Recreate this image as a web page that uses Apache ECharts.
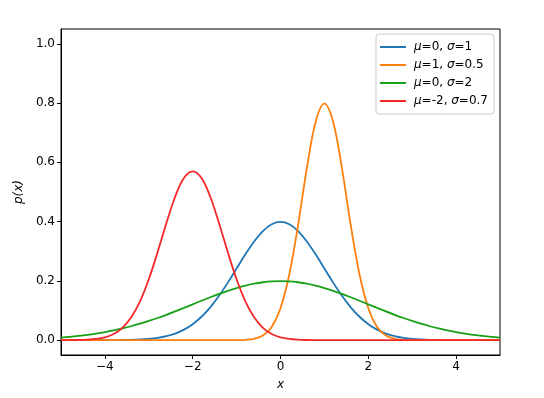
<!DOCTYPE html>
<html>
<head>
<meta charset="utf-8">
<script src="https://cdn.jsdelivr.net/npm/echarts@6/dist/echarts.min.js"></script>
<style>
  html, body { margin: 0; padding: 0; background: #fff; }
  #chart { width: 544px; height: 398px; }
</style>
</head>
<body>
<div id="chart"></div>
<script>
// x samples, step 0.2
var xs = [-5.0, -4.8, -4.6, -4.4, -4.2, -4.0, -3.8, -3.6, -3.4, -3.2,
          -3.0, -2.8, -2.6, -2.4, -2.2, -2.0, -1.8, -1.6, -1.4, -1.2,
          -1.0, -0.8, -0.6, -0.4, -0.2, 0.0, 0.2, 0.4, 0.6, 0.8,
          1.0, 1.2, 1.4, 1.6, 1.8, 2.0, 2.2, 2.4, 2.6, 2.8,
          3.0, 3.2, 3.4, 3.6, 3.8, 4.0, 4.2, 4.4, 4.6, 4.8, 5.0];

// mu=0, sigma=1
var blue = [0, 0, 0, 0, 0.0001, 0.0001, 0.0003, 0.0006, 0.0012, 0.0024,
            0.0044, 0.0079, 0.0136, 0.0224, 0.0355, 0.0540, 0.0790, 0.1109, 0.1497, 0.1942,
            0.2420, 0.2897, 0.3332, 0.3683, 0.3910, 0.3989, 0.3910, 0.3683, 0.3332, 0.2897,
            0.2420, 0.1942, 0.1497, 0.1109, 0.0790, 0.0540, 0.0355, 0.0224, 0.0136, 0.0079,
            0.0044, 0.0024, 0.0012, 0.0006, 0.0003, 0.0001, 0.0001, 0, 0, 0, 0];

// mu=1, sigma=0.5
var orange = [0, 0, 0, 0, 0, 0, 0, 0, 0, 0,
              0, 0, 0, 0, 0, 0, 0, 0, 0, 0,
              0.0003, 0.0012, 0.0048, 0.0158, 0.0448, 0.1080, 0.2218, 0.3884, 0.5794, 0.7365,
              0.7979, 0.7365, 0.5794, 0.3884, 0.2218, 0.1080, 0.0448, 0.0158, 0.0048, 0.0012,
              0.0003, 0, 0, 0, 0, 0, 0, 0, 0, 0, 0];

// mu=0, sigma=2
var green = [0.0088, 0.0112, 0.0142, 0.0177, 0.0220, 0.0270, 0.0328, 0.0395, 0.0470, 0.0555,
             0.0648, 0.0749, 0.0857, 0.0971, 0.1089, 0.1210, 0.1330, 0.1448, 0.1561, 0.1666,
             0.1760, 0.1841, 0.1907, 0.1955, 0.1985, 0.1995, 0.1985, 0.1955, 0.1907, 0.1841,
             0.1760, 0.1666, 0.1561, 0.1448, 0.1330, 0.1210, 0.1089, 0.0971, 0.0857, 0.0749,
             0.0648, 0.0555, 0.0470, 0.0395, 0.0328, 0.0270, 0.0220, 0.0177, 0.0142, 0.0112, 0.0088];

// mu=-2, sigma=0.7
var red = [0, 0.0002, 0.0006, 0.0016, 0.0041, 0.0096, 0.0209, 0.0418, 0.0771, 0.1311,
           0.2054, 0.2966, 0.3947, 0.4840, 0.5471, 0.5699, 0.5471, 0.4840, 0.3947, 0.2966,
           0.2054, 0.1311, 0.0771, 0.0418, 0.0209, 0.0096, 0.0041, 0.0016, 0.0006, 0.0002,
           0, 0, 0, 0, 0, 0, 0, 0, 0, 0,
           0, 0, 0, 0, 0, 0, 0, 0, 0, 0, 0];

var names = ['mu0s1', 'mu1s05', 'mu0s2', 'mum2s07'];
var labels = ['{i|μ}=0, {i|σ}=1', '{i|μ}=1, {i|σ}=0.5', '{i|μ}=0, {i|σ}=2', '{i|μ}=-2, {i|σ}=0.7'];
var colors = ['#1f77b4', '#ff7f0e', '#18a018', '#f52828'];
var xTicks = [-4, -2, 0, 2, 4];
var yTicks = [0, 0.2, 0.4, 0.6, 0.8, 1.0];

function pairs(ys) {
  var out = [];
  for (var i = 0; i < xs.length; i++) out.push([xs[i], ys[i]]);
  return out;
}

var allY = [blue, orange, green, red];
var series = [];
for (var k = 0; k < names.length; k++) {
  series.push({
    name: names[k],
    type: 'line',
    data: pairs(allY[k]),
    smooth: 0.35,
    symbol: 'none',
    lineStyle: { width: 1.8, color: colors[k] },
    itemStyle: { color: colors[k] },
    z: 2 + k
  });
}

var font = 'DejaVu Sans';
var chart = echarts.init(document.getElementById('chart'));
chart.setOption({
  animation: false,
  backgroundColor: '#fff',
  textStyle: { fontFamily: font },
  grid: {
    left: 61, right: 44, top: 29, bottom: 43,
    show: true, borderColor: '#000', borderWidth: 1, backgroundColor: 'transparent'
  },
  legend: {
    orient: 'vertical',
    right: 50, top: 34,
    padding: [7, 6, 7, 4],
    itemGap: 6,
    icon: 'rect',
    itemWidth: 26, itemHeight: 2,
    backgroundColor: '#fff',
    borderColor: '#ccc', borderWidth: 1, borderRadius: 3,
    data: names,
    formatter: function (n) { return labels[names.indexOf(n)]; },
    textStyle: {
      fontFamily: font, fontSize: 12, color: '#000', padding: [0, 0, 0, 3],
      rich: { i: { fontStyle: 'italic', fontFamily: font, fontSize: 12, color: '#000' } }
    }
  },
  xAxis: {
    type: 'value', min: -5, max: 5,
    name: 'x', nameLocation: 'middle', nameGap: 24,
    nameTextStyle: { fontStyle: 'italic', fontSize: 12, color: '#000', fontFamily: font },
    axisLine: { show: true, onZero: false, lineStyle: { color: '#000', width: 1 } },
    axisTick: { show: true, customValues: xTicks, length: 4, lineStyle: { color: '#000' } },
    axisLabel: {
      customValues: xTicks, margin: 6, fontSize: 12, color: '#000', fontFamily: font,
      formatter: function (v) { return String(v).replace('-', '\u2212'); }
    },
    splitLine: { show: false }
  },
  yAxis: {
    type: 'value', min: -0.05, max: 1.05,
    name: 'p(x)', nameLocation: 'middle', nameGap: 34, nameRotate: 90,
    nameTextStyle: { fontStyle: 'italic', fontSize: 12, color: '#000', fontFamily: font },
    axisLine: { show: true, onZero: false, lineStyle: { color: '#000', width: 1 } },
    axisTick: { show: true, customValues: yTicks, length: 4, lineStyle: { color: '#000' } },
    axisLabel: {
      customValues: yTicks, margin: 6, fontSize: 12, color: '#000', fontFamily: font,
      formatter: function (v) { return v.toFixed(1); }
    },
    splitLine: { show: false }
  },
  series: series
});
</script>
</body>
</html>
